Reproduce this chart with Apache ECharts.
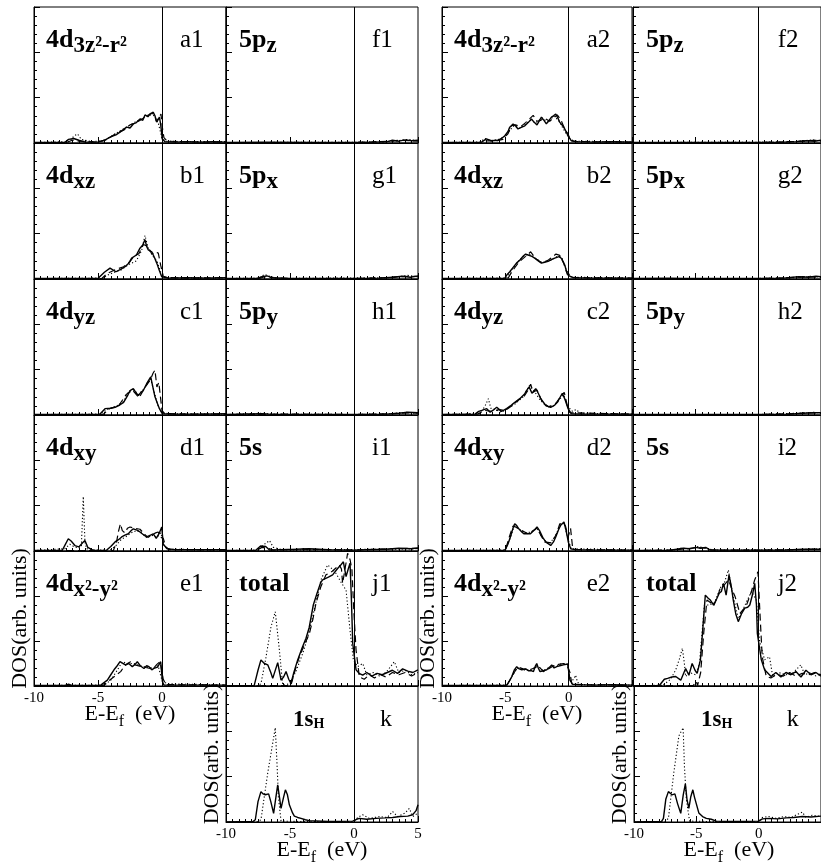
<!DOCTYPE html>
<html><head><meta charset="utf-8">
<script src="https://cdn.jsdelivr.net/npm/echarts@6/dist/echarts.min.js"></script>
<style>html,body{margin:0;padding:0;background:#fff}#c{width:821px;height:865px}</style>
</head><body><div id="c"></div><script>
// ---------- tick labels ----------
const X_MIN = -10, X_MAX = 5, X_STEP = 5;
const Y_MIN = 0, Y_MAX = 3, Y_STEP = 1;

// ---------- left set (1) ----------
const a1_solid = [[-10,0.01],[-7.6,0.01],[-7.3,0.08],[-6.9,0.1],[-6.5,0.06],[-6.0,0.02],[-5.0,0.02],[-4.5,0.06],[-4.06,0.13],[-3.6,0.18],[-3.28,0.24],[-3.0,0.3],[-2.76,0.35],[-2.5,0.33],[-2.24,0.42],[-2.0,0.45],[-1.72,0.53],[-1.5,0.5],[-1.33,0.62],[-1.1,0.58],[-0.94,0.64],[-0.68,0.68],[-0.55,0.6],[-0.41,0.46],[-0.3,0.5],[-0.2,0.57],[-0.1,0.4],[0.02,0.09],[0.23,0.03],[1,0.02],[2,0.03],[3,0.02],[4,0.03],[5,0.02]];
const a1_dash = [[-10,0.01],[-7.5,0.01],[-7,0.06],[-6.5,0.04],[-5,0.02],[-4.3,0.08],[-3.6,0.21],[-3.0,0.28],[-2.5,0.4],[-2.1,0.44],[-1.6,0.52],[-1.2,0.6],[-0.8,0.65],[-0.6,0.64],[-0.45,0.48],[-0.25,0.55],[-0.08,0.64],[0.05,0.3],[0.15,0.12],[0.4,0.04],[1.5,0.03],[3,0.02],[5,0.02]];
const a1_dot = [[-10,0.01],[-7.2,0.03],[-6.9,0.15],[-6.6,0.2],[-6.3,0.08],[-5.5,0.03],[-4.5,0.05],[-3.8,0.18],[-3.2,0.28],[-2.6,0.38],[-2.0,0.48],[-1.5,0.55],[-1.0,0.62],[-0.6,0.6],[-0.3,0.45],[0,0.1],[0.3,0.04],[2,0.03],[5,0.03]];

const b1_solid = [[-10,0.01],[-5.2,0.01],[-4.97,0.02],[-4.5,0.15],[-4.06,0.24],[-3.6,0.16],[-3.2,0.22],[-2.89,0.27],[-2.6,0.35],[-2.37,0.46],[-2.0,0.53],[-1.72,0.68],[-1.5,0.75],[-1.33,0.87],[-1.2,0.72],[-1.07,0.64],[-0.8,0.6],[-0.6,0.48],[-0.41,0.35],[-0.2,0.18],[-0.02,0.05],[0.5,0.02],[2,0.03],[3.5,0.02],[5,0.03]];
const b1_dash = [[-10,0.01],[-4.7,0.01],[-4.3,0.12],[-3.7,0.2],[-3.0,0.27],[-2.5,0.38],[-2.2,0.5],[-1.8,0.56],[-1.46,0.76],[-1.1,0.72],[-0.8,0.55],[-0.5,0.6],[-0.29,0.57],[-0.1,0.3],[0.1,0.06],[0.5,0.03],[2,0.02],[5,0.03]];
const b1_dot = [[-10,0.01],[-4.6,0.02],[-4.3,0.08],[-3.8,0.14],[-3.2,0.2],[-2.6,0.32],[-2.0,0.4],[-1.6,0.62],[-1.33,0.96],[-1.1,0.7],[-0.7,0.5],[-0.4,0.4],[-0.1,0.15],[0.2,0.03],[5,0.02]];

const c1_solid = [[-10,0.01],[-5,0.01],[-4.84,0.02],[-4.45,0.14],[-4.0,0.15],[-3.67,0.17],[-3.3,0.22],[-3.0,0.28],[-2.7,0.42],[-2.5,0.54],[-2.24,0.58],[-2.05,0.5],[-1.85,0.43],[-1.65,0.5],[-1.46,0.54],[-1.2,0.69],[-0.88,0.84],[-0.7,0.6],[-0.55,0.4],[-0.35,0.25],[-0.2,0.14],[0.02,0.03],[1,0.02],[3,0.02],[5,0.03]];
const c1_dash = [[-10,0.01],[-4.6,0.01],[-4.1,0.14],[-3.4,0.2],[-2.8,0.45],[-2.3,0.55],[-1.8,0.38],[-1.3,0.62],[-0.9,0.78],[-0.7,0.92],[-0.55,0.99],[-0.4,0.62],[-0.25,0.72],[-0.16,0.76],[0.0,0.1],[0.2,0.03],[2,0.02],[5,0.02]];
const c1_dot = [[-10,0.01],[-4.8,0.02],[-4.3,0.12],[-3.6,0.19],[-3.0,0.3],[-2.6,0.52],[-2.2,0.55],[-1.8,0.45],[-1.3,0.62],[-0.9,0.8],[-0.6,0.5],[-0.3,0.2],[0,0.05],[0.5,0.03],[5,0.02]];

const d1_solid = [[-10,0.01],[-7.8,0.01],[-7.6,0.12],[-7.32,0.27],[-7.1,0.22],[-6.8,0.12],[-6.5,0.09],[-6.2,0.18],[-6.02,0.23],[-5.8,0.08],[-5.4,0.02],[-4.7,0.01],[-4.32,0.02],[-4.0,0.1],[-3.67,0.2],[-3.4,0.25],[-3.15,0.31],[-2.9,0.35],[-2.63,0.38],[-2.4,0.45],[-2.24,0.49],[-1.95,0.46],[-1.72,0.42],[-1.45,0.36],[-1.2,0.31],[-0.9,0.35],[-0.68,0.38],[-0.45,0.28],[-0.2,0.4],[-0.02,0.53],[0.1,0.15],[0.4,0.05],[1,0.03],[3,0.03],[5,0.03]];
const d1_dash = [[-10,0.01],[-3.8,0.01],[-3.55,0.2],[-3.41,0.42],[-3.25,0.6],[-3.1,0.45],[-2.9,0.4],[-2.7,0.5],[-2.5,0.53],[-2.1,0.5],[-1.72,0.48],[-1.4,0.38],[-1.1,0.3],[-0.8,0.35],[-0.5,0.4],[-0.3,0.42],[-0.1,0.3],[0.1,0.28],[0.3,0.08],[0.6,0.03],[5,0.02]];
const d1_dot = [[-10,0.01],[-7.6,0.05],[-7.2,0.15],[-6.9,0.1],[-6.5,0.06],[-6.3,0.1],[-6.15,1.2],[-6.02,0.2],[-5.9,0.05],[-5,0.02],[-4.0,0.03],[-3.6,0.12],[-3.2,0.25],[-2.8,0.32],[-2.4,0.4],[-2.0,0.45],[-1.6,0.4],[-1.2,0.3],[-0.8,0.35],[-0.4,0.3],[-0.1,0.4],[0.2,0.1],[0.6,0.04],[5,0.02]];

const e1_solid = [[-10,0.01],[-7.6,0.01],[-7.3,0.04],[-7.0,0.01],[-5.0,0.01],[-4.79,0.02],[-4.27,0.13],[-4.0,0.25],[-3.75,0.36],[-3.5,0.45],[-3.28,0.54],[-3.05,0.5],[-2.84,0.47],[-2.6,0.5],[-2.32,0.43],[-2.1,0.48],[-1.93,0.54],[-1.7,0.45],[-1.41,0.39],[-1.2,0.45],[-1.02,0.43],[-0.8,0.36],[-0.63,0.39],[-0.35,0.42],[-0.1,0.54],[0.03,0.1],[0.15,0.02],[1,0.02],[3,0.02],[5,0.02]];
const e1_dash = [[-10,0.01],[-4.6,0.01],[-4.0,0.15],[-3.5,0.26],[-3.23,0.32],[-2.97,0.43],[-2.7,0.5],[-2.45,0.54],[-2.1,0.47],[-1.6,0.43],[-1.1,0.4],[-0.7,0.38],[-0.4,0.48],[-0.15,0.54],[0.1,0.15],[0.3,0.03],[5,0.02]];
const e1_dot = [[-10,0.01],[-4.5,0.02],[-4.0,0.13],[-3.5,0.35],[-3.1,0.54],[-2.7,0.5],[-2.2,0.5],[-1.7,0.45],[-1.2,0.42],[-0.7,0.4],[-0.3,0.45],[0,0.12],[0.4,0.05],[5,0.02]];

const f1_solid = [[-10,0.01],[-7,0.02],[-3,0.01],[0,0.01],[1.5,0.02],[2.6,0.03],[3.0,0.06],[3.5,0.04],[4.0,0.07],[4.5,0.05],[5,0.06]];
const f1_dash = [[-10,0.01],[0,0.01],[2.8,0.04],[3.6,0.06],[4.3,0.05],[5,0.04]];
const f1_dot = [[-10,0.01],[2.5,0.02],[3.4,0.05],[4.2,0.08],[5,0.05]];

const g1_solid = [[-10,0.01],[-7.6,0.01],[-7.2,0.05],[-6.8,0.07],[-6.4,0.03],[-5,0.01],[0,0.01],[2,0.02],[3,0.04],[3.8,0.06],[4.4,0.04],[5,0.07]];
const g1_dash = [[-10,0.01],[-7.4,0.01],[-7.0,0.05],[-6.5,0.03],[-5,0.01],[0,0.01],[2.5,0.03],[3.5,0.05],[4.5,0.06],[5,0.05]];
const g1_dot = [[-10,0.01],[-7.4,0.02],[-7.0,0.1],[-6.6,0.06],[-6,0.01],[3,0.03],[4.2,0.08],[5,0.05]];

const h1_solid = [[-10,0.01],[-7.2,0.03],[-6.6,0.02],[-5,0.01],[0,0.01],[2.5,0.02],[3.5,0.04],[4.2,0.06],[5,0.05]];
const h1_dash = [[-10,0.01],[-5,0.02],[0,0.01],[3,0.03],[4.5,0.05],[5,0.04]];
const h1_dot = [[-10,0.01],[-7,0.04],[-6.5,0.02],[0,0.01],[3,0.03],[4,0.06],[5,0.04]];

const i1_solid = [[-10,0.01],[-7.7,0.01],[-7.3,0.11],[-6.9,0.1],[-6.6,0.02],[-5.8,0.03],[-4.5,0.04],[-3.5,0.05],[-2,0.03],[0,0.02],[1,0.03],[2.5,0.04],[3.5,0.06],[4.5,0.05],[5,0.07]];
const i1_dash = [[-10,0.01],[-7.6,0.01],[-7.2,0.08],[-6.7,0.06],[-6.3,0.02],[-4,0.04],[0,0.02],[3,0.05],[5,0.06]];
const i1_dot = [[-10,0.01],[-7.5,0.02],[-7.0,0.15],[-6.6,0.23],[-6.3,0.08],[-5.5,0.02],[3,0.04],[5,0.05]];

const j1_solid = [[-10,0],[-7.8,0.01],[-7.5,0.35],[-7.27,0.58],[-7.0,0.5],[-6.74,0.47],[-6.5,0.3],[-6.35,0.17],[-5.96,0.52],[-5.7,0.13],[-5.5,0.2],[-5.31,0.32],[-5.1,0.15],[-4.92,0.06],[-4.7,0.3],[-4.4,0.58],[-4.05,0.85],[-3.75,1.06],[-3.5,1.3],[-3.18,1.8],[-2.9,2.05],[-2.6,2.3],[-2.45,2.36],[-2.0,2.42],[-1.67,2.47],[-1.28,2.61],[-1.0,2.7],[-0.83,2.76],[-0.62,2.43],[-0.45,2.6],[-0.31,2.73],[-0.2,1.9],[-0.1,0.95],[0.16,0.36],[0.4,0.28],[0.68,0.24],[1.0,0.3],[1.4,0.22],[1.8,0.28],[2.2,0.25],[2.6,0.3],[3.0,0.35],[3.4,0.28],[3.8,0.38],[4.2,0.33],[4.6,0.3],[5,0.36]];
const j1_dash = [[-10,0],[-5.1,0.01],[-4.92,0.02],[-4.6,0.35],[-4.27,0.65],[-3.9,0.9],[-3.49,1.16],[-3.2,1.5],[-2.97,1.84],[-2.6,2.2],[-2.19,2.47],[-1.7,2.55],[-1.15,2.69],[-0.98,2.6],[-0.89,2.28],[-0.7,2.6],[-0.5,2.95],[-0.3,2.8],[-0.16,2.58],[0.0,1.6],[0.16,0.8],[0.42,0.2],[0.8,0.15],[1.2,0.25],[1.6,0.18],[2.0,0.26],[2.5,0.2],[3.0,0.3],[3.5,0.25],[4.0,0.3],[4.5,0.22],[5,0.3]];
const j1_dot = [[-10,0],[-7.5,0.01],[-7.27,0.05],[-6.9,0.6],[-6.48,1.32],[-6.15,1.65],[-5.83,0.8],[-5.57,0.02],[-5.0,0.05],[-4.5,0.35],[-4.0,0.73],[-3.6,1.1],[-3.23,1.54],[-2.9,1.95],[-2.58,2.36],[-2.06,2.69],[-1.7,2.6],[-1.4,2.5],[-1.0,2.3],[-0.62,2.13],[-0.31,1.24],[-0.05,0.58],[0.29,0.43],[0.68,0.5],[1.0,0.25],[1.5,0.3],[2.0,0.22],[2.5,0.3],[3.15,0.54],[3.5,0.3],[4.0,0.35],[4.5,0.25],[5,0.3]];

const k1_solid = [[-10,0],[-7.9,0.01],[-7.71,0.05],[-7.5,0.45],[-7.27,0.67],[-7.1,0.62],[-6.93,0.6],[-6.67,0.62],[-6.5,0.45],[-6.28,0.19],[-6.1,0.55],[-5.96,0.82],[-5.85,0.6],[-5.7,0.3],[-5.5,0.55],[-5.36,0.71],[-5.2,0.6],[-5.05,0.38],[-4.8,0.2],[-4.66,0.13],[-4.4,0.1],[-4.14,0.08],[-3.8,0.05],[-3.49,0.03],[-2,0.01],[-0.1,0.02],[0.2,0.06],[0.42,0.08],[1.0,0.06],[1.72,0.08],[2.4,0.09],[3.02,0.1],[3.6,0.12],[4.2,0.13],[4.58,0.16],[4.85,0.25],[5,0.38]];
const k1_dot = [[-10,0],[-7.5,0.01],[-7.27,0.05],[-6.74,1.08],[-6.15,2.08],[-6.0,1.2],[-5.91,0.56],[-5.7,0.02],[-4,0.01],[0,0.01],[0.3,0.1],[0.68,0.16],[1.2,0.08],[2.0,0.12],[2.6,0.1],[3.02,0.23],[3.4,0.12],[4.0,0.2],[4.32,0.3],[4.6,0.12],[5,0.2]];

// ---------- right set (2) ----------
const a2_solid = [[-10,0.01],[-7.2,0.01],[-6.88,0.02],[-6.5,0.09],[-6.1,0.05],[-5.6,0.06],[-5.3,0.1],[-5.04,0.16],[-4.8,0.25],[-4.65,0.35],[-4.39,0.42],[-4.2,0.38],[-4.0,0.31],[-3.7,0.35],[-3.46,0.38],[-3.2,0.45],[-2.94,0.53],[-2.7,0.45],[-2.5,0.4],[-2.3,0.5],[-2.15,0.57],[-1.95,0.5],[-1.76,0.42],[-1.55,0.5],[-1.36,0.57],[-1.2,0.6],[-1.02,0.64],[-0.85,0.55],[-0.71,0.46],[-0.39,0.35],[-0.2,0.25],[-0.05,0.16],[0.2,0.05],[0.6,0.03],[2,0.02],[3.5,0.03],[5,0.02]];
const a2_dash = [[-10,0.01],[-6.9,0.01],[-6.5,0.05],[-5.8,0.04],[-5.2,0.08],[-4.8,0.2],[-4.5,0.38],[-4.2,0.4],[-3.8,0.36],[-3.4,0.45],[-2.8,0.61],[-2.5,0.48],[-2.2,0.5],[-1.9,0.55],[-1.5,0.48],[-1.2,0.55],[-0.9,0.62],[-0.6,0.5],[-0.3,0.3],[-0.05,0.2],[0.15,0.06],[0.5,0.03],[5,0.02]];
const a2_dot = [[-10,0.01],[-7.0,0.02],[-6.6,0.1],[-6.2,0.05],[-5.5,0.08],[-5.0,0.15],[-4.6,0.3],[-4.3,0.38],[-3.9,0.32],[-3.4,0.42],[-3.0,0.5],[-2.6,0.45],[-2.1,0.55],[-1.6,0.45],[-1.2,0.6],[-0.8,0.5],[-0.4,0.3],[0,0.12],[0.3,0.06],[0.8,0.04],[5,0.02]];

const b2_solid = [[-10,0.01],[-5.3,0.01],[-5.04,0.02],[-4.85,0.1],[-4.65,0.16],[-4.4,0.25],[-4.12,0.35],[-3.85,0.42],[-3.6,0.5],[-3.4,0.55],[-3.2,0.53],[-2.9,0.5],[-2.68,0.46],[-2.4,0.4],[-2.15,0.35],[-1.9,0.37],[-1.63,0.39],[-1.35,0.43],[-1.1,0.46],[-0.71,0.5],[-0.5,0.42],[-0.31,0.31],[-0.15,0.15],[0.03,0.07],[0.4,0.03],[2,0.02],[5,0.02]];
const b2_dash = [[-10,0.01],[-4.8,0.01],[-4.4,0.2],[-3.9,0.38],[-3.4,0.5],[-3.0,0.6],[-2.6,0.45],[-2.1,0.35],[-1.6,0.42],[-1.0,0.55],[-0.7,0.52],[-0.4,0.35],[-0.1,0.1],[0.2,0.03],[5,0.02]];
const b2_dot = [[-10,0.01],[-4.9,0.02],[-4.5,0.2],[-4.0,0.38],[-3.5,0.52],[-3.1,0.55],[-2.6,0.45],[-2.1,0.36],[-1.5,0.4],[-0.9,0.5],[-0.5,0.45],[-0.2,0.2],[0.2,0.04],[5,0.02]];

const c2_solid = [[-10,0.01],[-7.6,0.01],[-7.4,0.02],[-7.1,0.08],[-6.86,0.1],[-6.47,0.14],[-6.2,0.06],[-5.9,0.12],[-5.68,0.17],[-5.3,0.08],[-4.9,0.14],[-4.6,0.2],[-4.38,0.25],[-3.86,0.36],[-3.46,0.47],[-3.3,0.55],[-3.12,0.62],[-2.9,0.48],[-2.6,0.58],[-2.4,0.48],[-2.2,0.36],[-1.81,0.21],[-1.42,0.17],[-1.1,0.22],[-0.89,0.28],[-0.7,0.38],[-0.5,0.48],[-0.3,0.35],[-0.05,0.14],[0.2,0.03],[1,0.02],[3,0.02],[5,0.02]];
const c2_dash = [[-10,0.01],[-7.2,0.02],[-6.6,0.1],[-6.0,0.08],[-5.5,0.12],[-5.0,0.1],[-4.5,0.2],[-4.0,0.32],[-3.5,0.42],[-3.2,0.55],[-3.0,0.68],[-2.8,0.5],[-2.5,0.55],[-2.1,0.3],[-1.6,0.18],[-1.1,0.22],[-0.6,0.42],[-0.35,0.5],[-0.1,0.2],[0.1,0.05],[5,0.02]];
const c2_dot = [[-10,0.01],[-7.0,0.03],[-6.6,0.2],[-6.34,0.36],[-6.15,0.15],[-5.8,0.12],[-5.3,0.06],[-4.8,0.15],[-4.2,0.25],[-3.6,0.4],[-3.1,0.65],[-2.7,0.52],[-2.3,0.35],[-1.8,0.2],[-1.2,0.2],[-0.7,0.35],[-0.4,0.45],[-0.1,0.2],[0.3,0.08],[0.6,0.12],[0.9,0.04],[5,0.02]];

const d2_solid = [[-10,0.01],[-5.2,0.01],[-5.0,0.03],[-4.8,0.15],[-4.6,0.31],[-4.4,0.5],[-4.26,0.6],[-4.1,0.56],[-3.94,0.49],[-3.7,0.42],[-3.54,0.38],[-3.02,0.38],[-2.75,0.45],[-2.5,0.53],[-2.3,0.45],[-2.05,0.3],[-1.81,0.2],[-1.42,0.12],[-1.2,0.2],[-1.02,0.31],[-0.8,0.47],[-0.63,0.57],[-0.37,0.64],[-0.2,0.45],[-0.03,0.2],[0.16,0.05],[0.5,0.03],[2,0.02],[5,0.02]];
const d2_dash = [[-10,0.01],[-5.0,0.01],[-4.7,0.3],[-4.4,0.55],[-4.1,0.52],[-3.7,0.45],[-3.2,0.38],[-2.8,0.45],[-2.5,0.5],[-2.2,0.35],[-1.9,0.2],[-1.4,0.18],[-1.0,0.35],[-0.7,0.6],[-0.45,0.6],[-0.25,0.55],[-0.05,0.3],[0.15,0.5],[0.3,0.1],[0.6,0.03],[5,0.02]];
const d2_dot = [[-10,0.01],[-5.0,0.02],[-4.6,0.3],[-4.3,0.55],[-3.9,0.48],[-3.4,0.4],[-2.9,0.42],[-2.5,0.5],[-2.1,0.3],[-1.6,0.15],[-1.1,0.3],[-0.7,0.55],[-0.35,0.62],[-0.1,0.3],[0.2,0.05],[5,0.02]];

const e2_solid = [[-10,0.01],[-5.1,0.01],[-4.88,0.02],[-4.7,0.1],[-4.49,0.21],[-4.3,0.35],[-4.1,0.43],[-3.9,0.38],[-3.7,0.36],[-3.4,0.38],[-3.18,0.34],[-2.95,0.34],[-2.78,0.32],[-2.62,0.45],[-2.52,0.5],[-2.4,0.4],[-2.26,0.32],[-2.0,0.34],[-1.73,0.36],[-1.5,0.42],[-1.34,0.47],[-1.15,0.4],[-0.94,0.43],[-0.7,0.45],[-0.42,0.47],[-0.08,0.49],[0.1,0.13],[0.3,0.04],[1,0.03],[2,0.02],[3.5,0.03],[5,0.02]];
const e2_dash = [[-10,0.01],[-4.9,0.01],[-4.6,0.15],[-4.3,0.3],[-4.0,0.42],[-3.6,0.38],[-3.1,0.36],[-2.7,0.4],[-2.4,0.45],[-2.0,0.32],[-1.6,0.38],[-1.2,0.45],[-0.8,0.48],[-0.4,0.5],[-0.1,0.45],[0.1,0.3],[0.25,0.05],[0.6,0.03],[5,0.02]];
const e2_dot = [[-10,0.01],[-4.9,0.02],[-4.5,0.2],[-4.1,0.4],[-3.6,0.36],[-3.0,0.35],[-2.5,0.45],[-2.0,0.34],[-1.5,0.42],[-1.0,0.45],[-0.5,0.5],[-0.1,0.48],[0.15,0.1],[0.4,0.15],[0.55,0.24],[0.7,0.08],[1.2,0.03],[5,0.02]];

const f2_solid = [[-10,0.01],[0,0.01],[2,0.02],[3,0.03],[3.8,0.05],[4.5,0.04],[5,0.06]];
const f2_dash = [[-10,0.01],[0,0.01],[2.5,0.03],[3.6,0.04],[4.4,0.06],[5,0.05]];
const f2_dot = [[-10,0.01],[2.5,0.02],[3.5,0.05],[4.5,0.07],[5,0.04]];

const g2_solid = [[-10,0.01],[-7,0.02],[-6,0.01],[0,0.01],[2,0.02],[3.2,0.05],[4,0.04],[4.6,0.06],[5,0.05]];
const g2_dash = [[-10,0.01],[0,0.01],[2.5,0.03],[3.8,0.05],[5,0.04]];
const g2_dot = [[-10,0.01],[0,0.01],[3,0.03],[4.2,0.06],[5,0.04]];

const h2_solid = [[-10,0.01],[0,0.01],[2.5,0.02],[3.5,0.04],[4.5,0.05],[5,0.05]];
const h2_dash = [[-10,0.01],[0,0.01],[3,0.03],[4.3,0.05],[5,0.04]];
const h2_dot = [[-10,0.01],[0,0.01],[3.2,0.04],[4.5,0.06],[5,0.04]];

const i2_solid = [[-10,0.01],[-7.2,0.01],[-6.5,0.04],[-6.0,0.06],[-5.5,0.05],[-5.0,0.08],[-4.6,0.06],[-4.2,0.08],[-3.9,0.03],[-3,0.02],[0,0.02],[2,0.02],[3.5,0.04],[5,0.04]];
const i2_dash = [[-10,0.01],[-6.8,0.02],[-5.8,0.05],[-4.9,0.07],[-4.3,0.07],[-3.8,0.02],[0,0.02],[3,0.03],[5,0.04]];
const i2_dot = [[-10,0.01],[-6.8,0.02],[-6.2,0.06],[-5.4,0.05],[-4.8,0.1],[-4.2,0.06],[-3.5,0.02],[3,0.03],[5,0.05]];

const j2_solid = [[-10,0],[-7.9,0.01],[-7.77,0.03],[-7.5,0.15],[-7.24,0.17],[-6.9,0.2],[-6.59,0.21],[-6.19,0.13],[-5.8,0.39],[-5.54,0.24],[-5.28,0.5],[-5.05,0.35],[-4.88,0.28],[-4.62,0.58],[-4.45,1.2],[-4.23,2.02],[-4.0,1.95],[-3.83,1.91],[-3.57,1.8],[-3.3,1.95],[-3.12,2.06],[-2.95,2.1],[-2.78,2.28],[-2.57,2.02],[-2.34,2.47],[-2.15,2.2],[-2.0,1.91],[-1.8,1.6],[-1.6,1.43],[-1.35,1.6],[-1.08,1.73],[-0.85,1.75],[-0.68,1.8],[-0.45,2.05],[-0.29,2.28],[-0.15,1.8],[-0.08,1.17],[0.24,0.58],[0.5,0.36],[1.02,0.21],[1.4,0.3],[1.8,0.2],[2.2,0.3],[2.6,0.25],[3.0,0.32],[3.4,0.2],[3.8,0.35],[4.2,0.25],[4.6,0.3],[5,0.22]];
const j2_dash = [[-10,0],[-5.2,0.01],[-4.95,0.1],[-4.85,0.01],[-4.6,0.3],[-4.35,1.2],[-4.1,1.91],[-3.8,1.85],[-3.57,1.78],[-3.3,1.95],[-3.04,2.17],[-2.7,2.25],[-2.39,2.36],[-2.1,2.15],[-1.86,1.99],[-1.47,1.61],[-1.2,1.7],[-0.94,1.8],[-0.55,2.1],[-0.3,2.35],[-0.03,2.54],[0.15,1.5],[0.31,0.65],[0.63,0.21],[1.0,0.18],[1.5,0.26],[2.0,0.22],[2.5,0.3],[3.0,0.22],[3.5,0.28],[4.0,0.25],[4.5,0.3],[5,0.25]];
const j2_dot = [[-10,0],[-7.6,0.02],[-7.0,0.15],[-6.59,0.36],[-6.3,0.6],[-6.06,0.84],[-5.9,0.5],[-5.8,0.21],[-5.5,0.3],[-5.0,0.25],[-4.7,0.5],[-4.3,1.8],[-3.9,1.8],[-3.5,1.85],[-3.0,2.2],[-2.7,2.3],[-2.39,2.58],[-2.1,2.1],[-1.6,1.5],[-1.3,1.65],[-0.94,1.87],[-0.55,2.1],[-0.16,1.91],[0.1,1.0],[0.5,0.58],[0.89,0.65],[1.15,0.21],[1.6,0.3],[2.2,0.25],[2.8,0.3],[3.39,0.47],[3.7,0.25],[4.2,0.3],[4.6,0.22],[5,0.28]];

const k2_solid = [[-10,0],[-7.8,0.01],[-7.64,0.08],[-7.45,0.5],[-7.24,0.67],[-6.95,0.6],[-6.72,0.62],[-6.5,0.4],[-6.25,0.19],[-6.05,0.6],[-5.88,0.84],[-5.75,0.5],[-5.6,0.3],[-5.45,0.55],[-5.28,0.71],[-5.15,0.55],[-5.0,0.4],[-4.8,0.2],[-4.5,0.12],[-4.2,0.08],[-3.8,0.06],[-3.4,0.02],[-2,0.01],[0,0.02],[0.3,0.07],[0.8,0.08],[1.5,0.07],[2.2,0.09],[2.8,0.1],[3.5,0.12],[4.2,0.11],[5,0.13]];
const k2_dot = [[-10,0],[-7.5,0.01],[-7.24,0.08],[-6.8,1.1],[-6.4,1.9],[-6.06,2.08],[-5.95,1.2],[-5.8,0.5],[-5.54,0.02],[-4,0.01],[0,0.01],[0.3,0.1],[0.8,0.12],[1.4,0.08],[2.0,0.12],[2.6,0.1],[3.2,0.18],[3.5,0.22],[3.8,0.1],[4.3,0.15],[5,0.12]];

// ---------- panel text ----------
const ORB_LEFT  = [['4d','3z²-r²','a'],['4d','xz','b'],['4d','yz','c'],['4d','xy','d'],['4d','x²-y²','e']];
const ORB_RIGHT = [['5p','z','f'],['5p','x','g'],['5p','y','h'],['5s','','i'],['total','','j']];
const ORB_H = ['1s','H','k'];
const X_NAME = ['E-E', 'f', '  (eV)'];
const Y_NAME = 'DOS(arb. units)';

const DATA = {
  a1:[a1_solid,a1_dash,a1_dot], b1:[b1_solid,b1_dash,b1_dot], c1:[c1_solid,c1_dash,c1_dot], d1:[d1_solid,d1_dash,d1_dot], e1:[e1_solid,e1_dash,e1_dot],
  f1:[f1_solid,f1_dash,f1_dot], g1:[g1_solid,g1_dash,g1_dot], h1:[h1_solid,h1_dash,h1_dot], i1:[i1_solid,i1_dash,i1_dot], j1:[j1_solid,j1_dash,j1_dot],
  k1:[k1_solid,null,k1_dot],
  a2:[a2_solid,a2_dash,a2_dot], b2:[b2_solid,b2_dash,b2_dot], c2:[c2_solid,c2_dash,c2_dot], d2:[d2_solid,d2_dash,d2_dot], e2:[e2_solid,e2_dash,e2_dot],
  f2:[f2_solid,f2_dash,f2_dot], g2:[g2_solid,g2_dash,g2_dot], h2:[h2_solid,h2_dash,h2_dot], i2:[i2_solid,i2_dash,i2_dot], j2:[j2_solid,j2_dash,j2_dot],
  k2:[k2_solid,null,k2_dot]
};

// ---------- layout ----------
const FONT = 'Liberation Serif';
const ROW_TOPS = [7, 143, 279, 415, 551, 686, 822];
const SETS = {
  '1': {c0:34, w0:192, c1:226, w1:192, k:226, wk:192, hideKMax:false},
  '2': {c0:442, w0:190, c1:633, w1:190, k:634, wk:190, hideKMax:true}
};
const MID = 0.3375; // (ascent - descent)/2 of Liberation Serif, in em

const measureCtx = document.createElement('canvas').getContext('2d');
function textW(str, size, weight) {
  measureCtx.font = (weight || 'normal') + ' ' + size + 'px "' + FONT + '"';
  return measureCtx.measureText(str).width;
}
function pieces(x, baseline, parts, align) {
  let total = 0;
  parts.forEach(p => { p.w = textW(p.t, p.size, p.weight); total += p.w; });
  let cx = align === 'center' ? x - total / 2 : x;
  const out = [];
  parts.forEach(p => {
    out.push({type:'text', x:cx, y: baseline + (p.dy || 0) - MID * p.size, silent:true, z:10,
      style:{text:p.t, fill:'#000', fontFamily:FONT, fontSize:p.size, fontWeight:p.weight || 'normal',
             align:'left', verticalAlign:'middle'}});
    cx += p.w;
  });
  return out;
}

const grids = [], xAxes = [], yAxes = [], series = [], graphics = [];
const LINESTY = [
  {type:'solid', width:1.4},
  {type:[7,4], width:1.2},
  {type:[1.2,2.2], width:1.1}
];

function addPanel(key, left, width, top, height, opt) {
  const gi = grids.length;
  grids.push({left:left, top:top, width:width, height:height, show:true, borderColor:'#000', borderWidth:1});
  xAxes.push({
    type:'value', gridIndex:gi, min:X_MIN, max:X_MAX, interval:X_STEP,
    axisLine:{show:true, onZero:false, lineStyle:{color:'#000', width:1}},
    axisTick:{show:true, inside:true, length:6, lineStyle:{color:'#000', width:1}},
    minorTick:{show:true, splitNumber:10, length:3, lineStyle:{color:'#000', width:1}},
    splitLine:{show:false},
    axisLabel:{show:!!opt.xLabels, showMaxLabel:!opt.hideMax, color:'#000', fontFamily:FONT, fontSize:15, margin:5}
  });
  yAxes.push({
    type:'value', gridIndex:gi, min:Y_MIN, max:Y_MAX, interval:Y_STEP,
    axisLine:{show:true, onZero:false, lineStyle:{color:'#000', width:1}},
    axisTick:{show:true, inside:true, length:6, lineStyle:{color:'#000', width:1}},
    minorTick:{show:true, splitNumber:5, length:3, lineStyle:{color:'#000', width:1}},
    splitLine:{show:false},
    axisLabel:{show:false},
    name: opt.yName ? Y_NAME : '', nameLocation:'middle', nameGap:3,
    nameTextStyle:{color:'#000', fontFamily:FONT, fontSize:22}
  });
  DATA[key].forEach((d, si) => {
    if (!d) return;
    const s = {
      type:'line', xAxisIndex:gi, yAxisIndex:gi, data:d, showSymbol:false, symbol:'none',
      lineStyle:{color:'#000', width:LINESTY[si].width, type:LINESTY[si].type}
    };
    if (si === 0) {
      s.markLine = {silent:true, symbol:['none','none'], label:{show:false},
        lineStyle:{color:'#000', width:1, type:'solid'}, data:[{xAxis:0}]};
    }
    series.push(s);
  });
  const zeroX = left + width * (0 - X_MIN) / (X_MAX - X_MIN);
  const base = top + 42;
  const main = opt.text[0], sub = opt.text[1];
  const parts = opt.isH
    ? [{t:main, size:23, weight:'bold'}, {t:sub, size:14, weight:'bold', dy:1}]
    : [{t:main, size:26, weight:'bold'}].concat(sub ? [{t:sub, size:23, weight:'bold', dy:5}] : []);
  pieces(left + opt.labelDx, base, parts).forEach(g => graphics.push(g));
  pieces(zeroX + opt.tagDx, base, [{t:opt.tag, size:opt.isH ? 24 : 25}]).forEach(g => graphics.push(g));
  if (opt.xLabels) {
    pieces(left + width / 2, top + height + 36, [{t:X_NAME[0], size:22}, {t:X_NAME[1], size:16, dy:5}, {t:X_NAME[2], size:22}], 'center')
      .forEach(g => graphics.push(g));
  }
}

['1','2'].forEach(n => {
  const L = SETS[n];
  for (let r = 0; r < 5; r++) {
    const top = ROW_TOPS[r], h = ROW_TOPS[r + 1] - ROW_TOPS[r];
    const lo = ORB_LEFT[r], ro = ORB_RIGHT[r];
    addPanel(lo[2] + n, L.c0, L.w0, top, h, {text:[lo[0], lo[1]], tag: lo[2] + n, labelDx:12, tagDx:18,
      xLabels: r === 4, hideMax: true, yName: r === 4});
    addPanel(ro[2] + n, L.c1, L.w1, top, h, {text:[ro[0], ro[1]], tag: ro[2] + n, labelDx:13, tagDx:18, hideMax:true});
  }
  addPanel('k' + n, L.k, L.wk, ROW_TOPS[5], ROW_TOPS[6] - ROW_TOPS[5], {text:[ORB_H[0], ORB_H[1]], tag: ORB_H[2], labelDx:67, tagDx:26, isH:true,
    xLabels:true, hideMax: L.hideKMax, yName:true});
});

const chart = echarts.init(document.getElementById('c'));
chart.setOption({
  animation:false,
  backgroundColor:'#fff',
  grid: grids, xAxis: xAxes, yAxis: yAxes, series: series,
  graphic: graphics
});
</script></body></html>
